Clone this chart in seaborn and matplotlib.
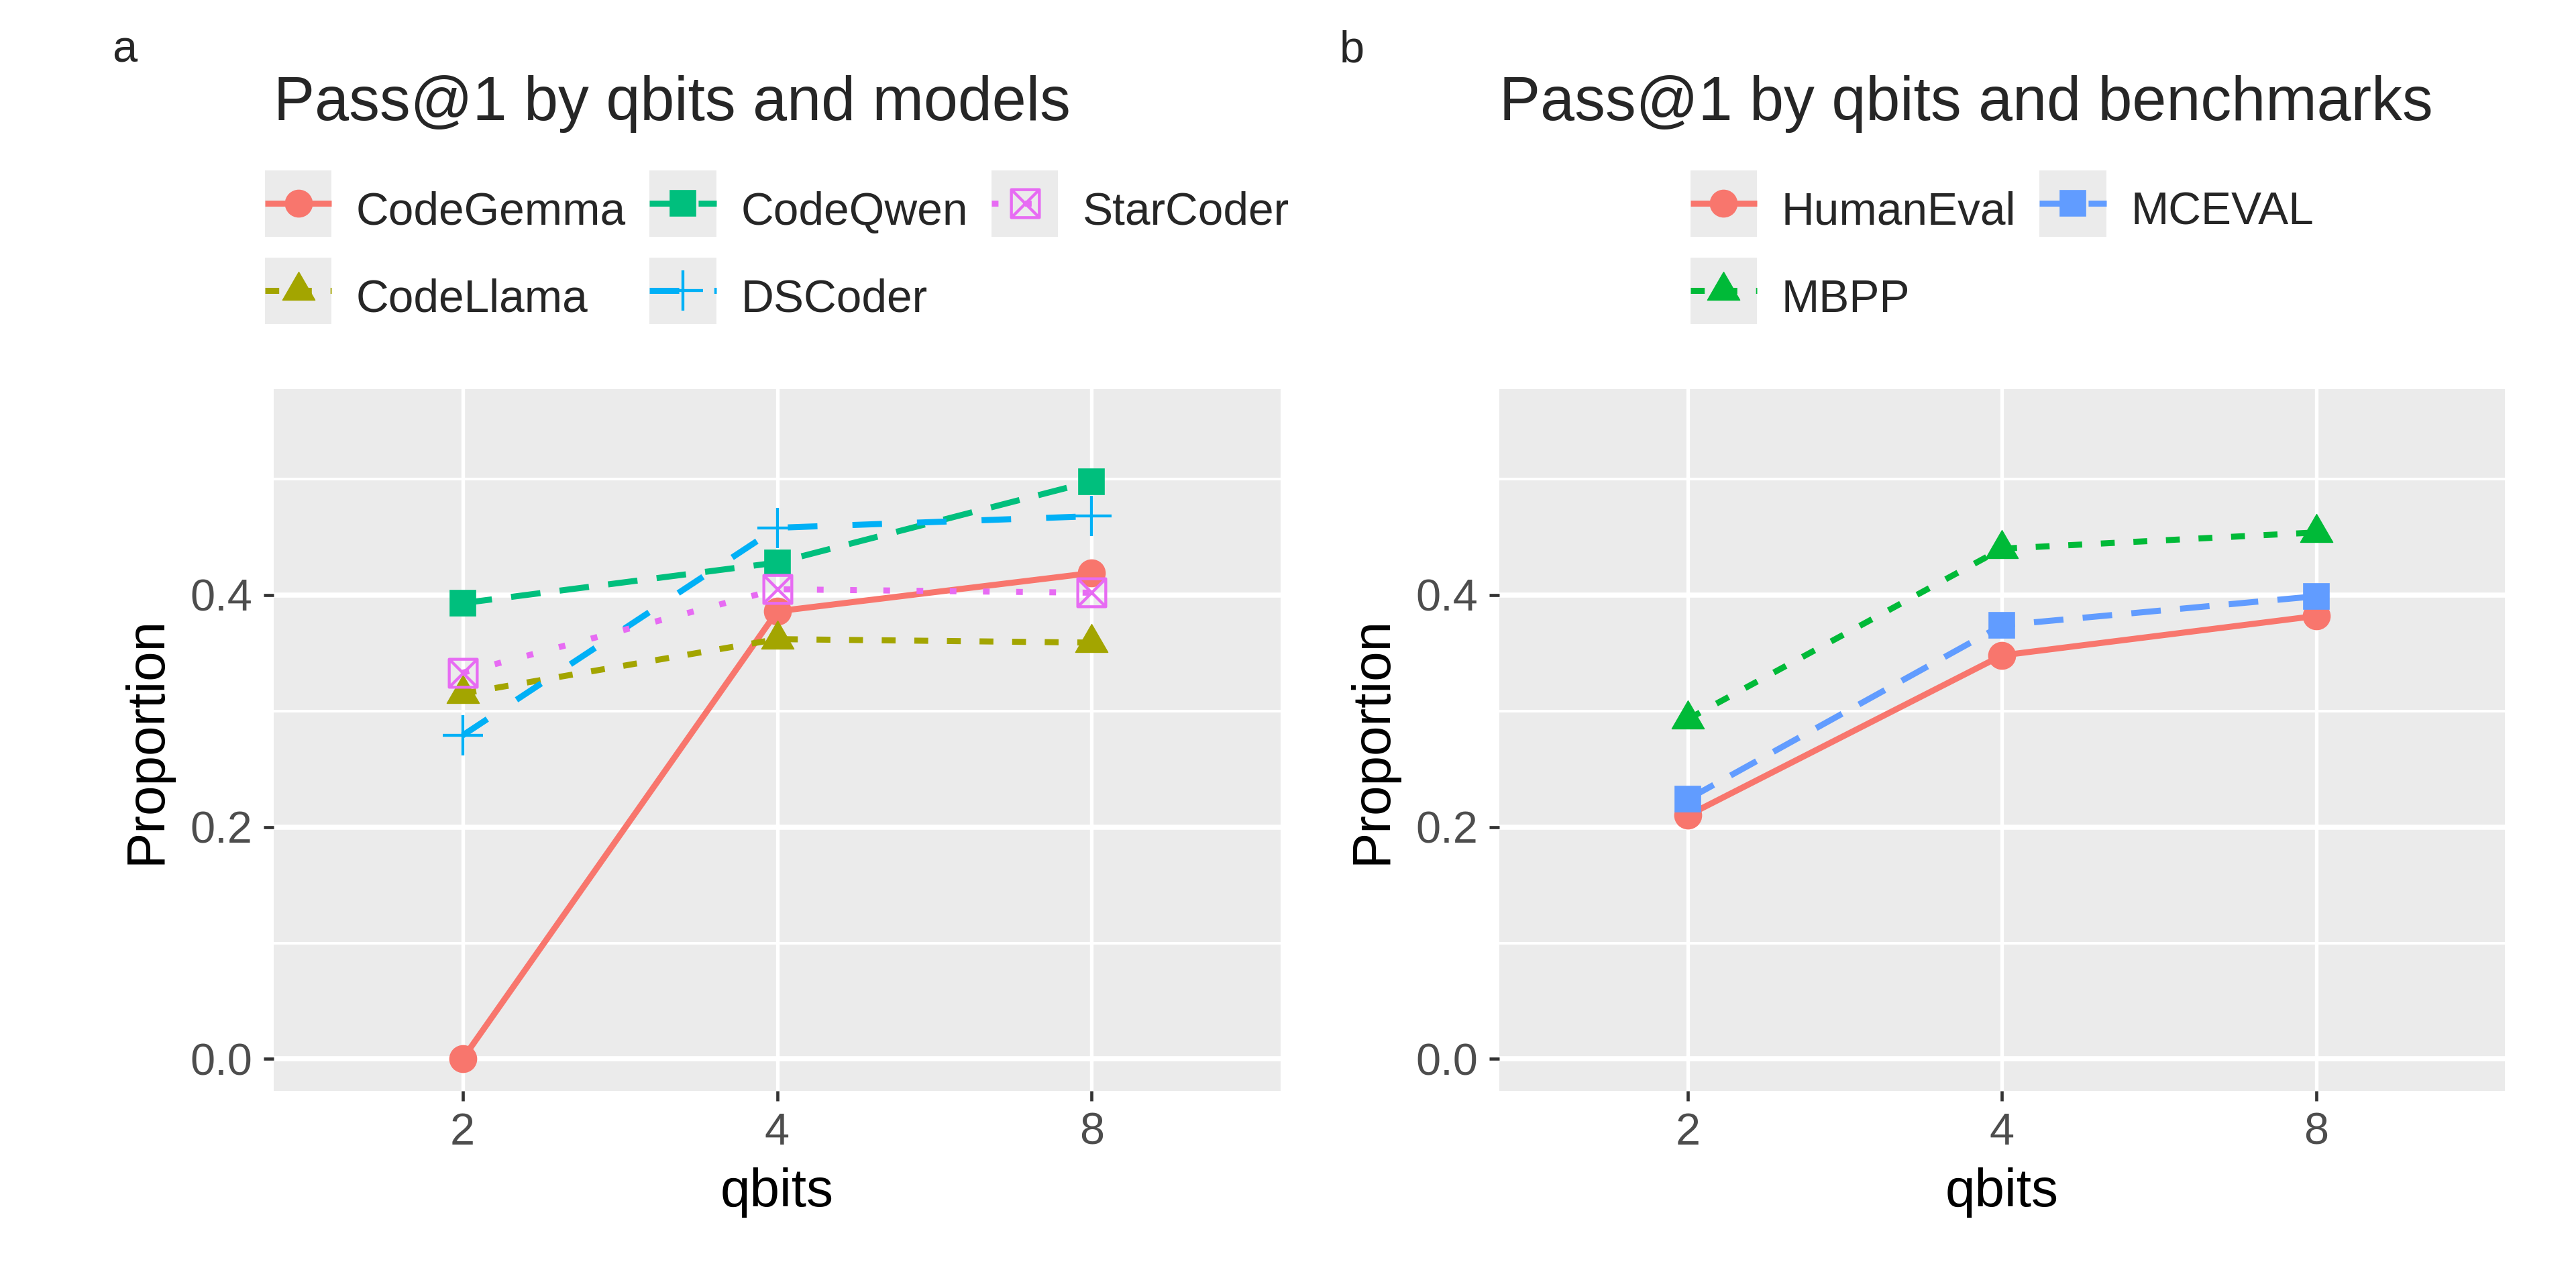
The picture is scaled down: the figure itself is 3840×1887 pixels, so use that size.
import numpy as np
import pandas as pd
import matplotlib
import matplotlib.pyplot as plt
from matplotlib.path import Path
from matplotlib.lines import Line2D
from matplotlib.patches import Rectangle
from matplotlib.legend_handler import HandlerBase
import seaborn as sns

# Data
qbits = [2, 4, 8]

models = ["CodeGemma", "CodeLlama", "CodeQwen", "DSCoder", "StarCoder"]
codegemma = [0.000, 0.386, 0.419]
codellama = [0.315, 0.362, 0.359]
codeqwen = [0.393, 0.428, 0.498]
dscoder = [0.279, 0.458, 0.468]
starcoder = [0.333, 0.405, 0.402]

benchmarks = ["HumanEval", "MBPP", "MCEVAL"]
humaneval = [0.210, 0.348, 0.382]
mbpp = [0.293, 0.440, 0.454]
mceval = [0.224, 0.374, 0.399]

model_df = pd.DataFrame({
    "qbits": qbits * 5,
    "Proportion": codegemma + codellama + codeqwen + dscoder + starcoder,
    "model": np.repeat(models, 3),
})
bench_df = pd.DataFrame({
    "qbits": qbits * 3,
    "Proportion": humaneval + mbpp + mceval,
    "benchmark": np.repeat(benchmarks, 3),
})

# square with a cross (R pch 7) and an equilateral triangle (R pch 17)
box_x = Path(
    [(-1, -1), (1, -1), (1, 1), (-1, 1), (-1, -1), (-1, -1), (1, 1), (-1, 1), (1, -1)],
    [Path.MOVETO, Path.LINETO, Path.LINETO, Path.LINETO, Path.CLOSEPOLY,
     Path.MOVETO, Path.LINETO, Path.MOVETO, Path.LINETO],
)
tri = Path([(0, 1), (-0.866, -0.5), (0.866, -0.5), (0, 1)],
           [Path.MOVETO, Path.LINETO, Path.LINETO, Path.CLOSEPOLY])

LW = 2.7
LT_SOLID = "-"
LT_22 = (0, (2.3, 3.1))
LT_42 = (0, (4.9, 3.2))
LT_44 = (0, (4.9, 5.8))
LT_13 = (0, (1.1, 4.4))

model_styles = {
    "CodeGemma": dict(color="#F8766D", marker="o", ms=12, ls=LT_SOLID, fill=True),
    "CodeLlama": dict(color="#A3A500", marker=tri, ms=16.6, ls=LT_22, fill=True),
    "CodeQwen": dict(color="#00BF7D", marker="s", ms=11.5, ls=LT_42, fill=True),
    "DSCoder": dict(color="#00B0F6", marker="+", ms=18, ls=LT_44, fill=False),
    "StarCoder": dict(color="#E76BF3", marker=box_x, ms=12.5, ls=LT_13, fill=False),
}
bench_styles = {
    "HumanEval": dict(color="#F8766D", marker="o", ms=12, ls=LT_SOLID, fill=True),
    "MBPP": dict(color="#00BA38", marker=tri, ms=16.6, ls=LT_22, fill=True),
    "MCEVAL": dict(color="#619CFF", marker="s", ms=11.5, ls=LT_42, fill=True),
}


class KeyHandler(HandlerBase):
    # ggplot-like legend key: grey square, line across, marker in the middle
    def create_artists(self, legend, orig_handle, xdescent, ydescent, width, height,
                       fontsize, trans):
        side = width
        cx = -xdescent + width / 2
        cy = (height - ydescent) / 2
        bg = Rectangle((cx - side / 2, cy - side / 2), side, side, facecolor="#EBEBEB",
                       edgecolor="none", transform=trans)
        ln = Line2D([cx - side / 2, cx + side / 2], [cy, cy])
        ln.update_from(orig_handle)
        ln.set_marker("None")
        ln.set_solid_capstyle("butt")
        ln.set_dash_capstyle("butt")
        ln.set_transform(trans)
        mk = Line2D([cx], [cy])
        mk.update_from(orig_handle)
        mk.set_linestyle("None")
        mk.set_transform(trans)
        return [bg, ln, mk]


def marker_kws(st):
    return dict(marker=st["marker"], markersize=st["ms"], markeredgecolor=st["color"],
                markerfacecolor=st["color"] if st["fill"] else "none",
                markeredgewidth=0.5 if st["fill"] else 1.3)


sns.set_theme(style="white")
plt.rcParams["font.family"] = ["Liberation Sans", "DejaVu Sans"]

fig = plt.figure(figsize=(16, 7.8625), dpi=240)
ax_a = fig.add_axes([0.1063, 0.1383, 0.3908, 0.5543])
ax_b = fig.add_axes([0.5820, 0.1383, 0.3904, 0.5543])


def draw_panel(ax, df, key, styles, title, letter, letter_x, ncol):
    ax.set_facecolor("#EBEBEB")
    # lines first, then points on top (geom_line + geom_point)
    for name, st in styles.items():
        sub = df[df[key] == name]
        sns.lineplot(data=sub, x="qbits", y="Proportion", ax=ax, color=st["color"],
                     linestyle=st["ls"], linewidth=LW, sort=False, zorder=2,
                     solid_capstyle="butt")
    for name, st in styles.items():
        sub = df[df[key] == name]
        sns.lineplot(data=sub, x="qbits", y="Proportion", ax=ax, color=st["color"],
                     linestyle="", sort=False, zorder=3, **marker_kws(st))

    ax.set_xscale("log", base=2)
    ax.set_xlim(2 ** 0.4, 2 ** 3.6)
    ax.set_ylim(-0.0275, 0.5775)
    ax.set_xticks(qbits)
    ax.set_xticklabels([str(q) for q in qbits])
    ax.xaxis.set_minor_locator(matplotlib.ticker.NullLocator())
    ax.set_yticks([0.0, 0.2, 0.4])
    ax.set_yticklabels(["0.0", "0.2", "0.4"])
    ax.set_yticks([0.1, 0.3, 0.5], minor=True)
    ax.grid(True, which="major", axis="y", color="white", linewidth=2.3)
    ax.grid(True, which="minor", axis="y", color="white", linewidth=1.15)
    ax.grid(True, which="major", axis="x", color="white", linewidth=1.6)
    ax.set_axisbelow(True)
    for s in ax.spines.values():
        s.set_visible(False)
    ax.tick_params(axis="both", which="major", length=4.5, width=1.4, color="#333333",
                   labelsize=20, labelcolor="#4D4D4D", pad=5, left=True, bottom=True)
    ax.tick_params(axis="y", which="minor", length=0)
    ax.set_xlabel("qbits", fontsize=24, color="black", labelpad=6)
    ax.set_ylabel("Proportion", fontsize=24, color="black", labelpad=8)

    pos = ax.get_position()
    fig.text(pos.x0, 0.905, title, fontsize=27.5, ha="left", va="baseline")
    fig.text(letter_x, 0.951, letter, fontsize=20, ha="left", va="baseline")

    handles = []
    for name, st in styles.items():
        handles.append(Line2D([], [], color=st["color"], linestyle=st["ls"],
                              linewidth=LW, **marker_kws(st)))
    ax.legend(handles, list(styles.keys()), ncol=ncol, loc="center",
              bbox_to_anchor=((pos.x0 + pos.x1) / 2, 0.800), bbox_transform=fig.transFigure,
              handler_map={Line2D: KeyHandler()},
              frameon=False, fontsize=20.3, handlelength=1.47, handleheight=1.47,
              handletextpad=0.54, columnspacing=0.52, labelspacing=0.72,
              borderpad=0)


draw_panel(ax_a, model_df, "model", model_styles, "Pass@1 by qbits and models", "a", 0.0435, 3)
draw_panel(ax_b, bench_df, "benchmark", bench_styles, "Pass@1 by qbits and benchmarks", "b", 0.520, 2)

fig.savefig("out.png", dpi=240, facecolor="white")
